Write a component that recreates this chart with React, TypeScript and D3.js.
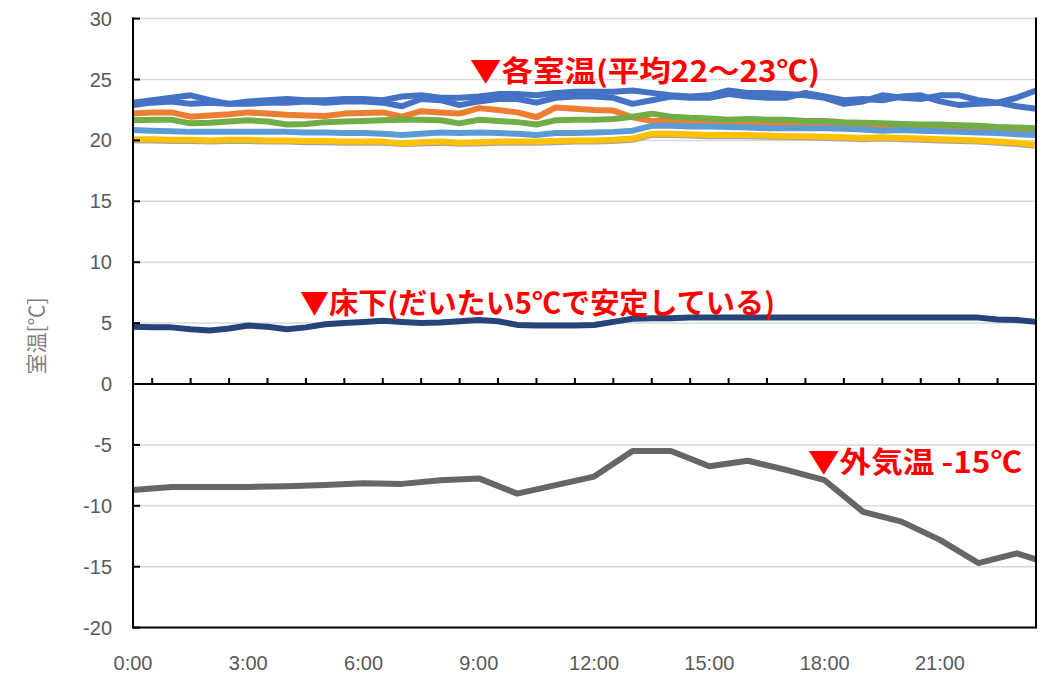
import React from "react";
import * as d3 from "d3";

// half-hourly sample times (hours)
const halfHours = d3.range(0, 24, 0.5);
// hourly times for outside air
const outsideHours = [0, 1, 2, 3, 4, 5, 6, 7, 8, 9, 10, 11, 12, 13, 14, 15, 16, 17, 18, 19, 20, 21, 22, 23, 23.5];

const roomBlueA = [23.1, 23.3, 23.5, 23.7, 23.3, 23.0, 23.2, 23.3, 23.4, 23.3, 23.3, 23.4, 23.4, 23.3, 23.6, 23.7, 23.5, 23.5, 23.6, 23.8, 23.8, 23.7, 23.9, 24.0, 24.0, 24.0, 24.1, 23.9, 23.7, 23.6, 23.7, 24.1, 23.9, 23.9, 23.8, 23.7, 23.5, 23.0, 23.2, 23.7, 23.5, 23.4, 23.7, 23.7, 23.3, 23.1, 23.5, 24.1];
const roomBlueB = [22.9, 23.1, 23.2, 23.0, 23.1, 23.0, 23.0, 23.1, 23.1, 23.2, 23.1, 23.2, 23.2, 23.1, 22.8, 23.4, 23.3, 22.9, 23.2, 23.4, 23.4, 23.1, 23.5, 23.6, 23.6, 23.5, 23.0, 23.3, 23.6, 23.5, 23.5, 23.8, 23.6, 23.5, 23.5, 23.9, 23.6, 23.3, 23.4, 23.3, 23.6, 23.7, 23.2, 22.9, 23.0, 23.1, 22.8, 22.6];
const roomOrange = [22.2, 22.3, 22.3, 21.95, 22.05, 22.15, 22.3, 22.2, 22.1, 22.05, 22.0, 22.2, 22.25, 22.3, 21.95, 22.4, 22.3, 22.2, 22.65, 22.5, 22.3, 21.9, 22.7, 22.6, 22.5, 22.45, 21.9, 21.6, 21.6, 21.5, 21.5, 21.4, 21.4, 21.4, 21.3, 21.3, 21.3, 21.2, 21.2, 21.1, 21.2, 21.1, 21.0, 21.0, 20.9, 20.9, 20.8, 20.8];
const roomGreen = [21.65, 21.7, 21.7, 21.4, 21.45, 21.55, 21.65, 21.55, 21.3, 21.35, 21.5, 21.55, 21.6, 21.65, 21.7, 21.7, 21.65, 21.4, 21.7, 21.6, 21.5, 21.3, 21.65, 21.7, 21.7, 21.75, 21.95, 22.2, 21.95, 21.85, 21.8, 21.7, 21.75, 21.7, 21.7, 21.6, 21.6, 21.5, 21.45, 21.4, 21.35, 21.3, 21.3, 21.25, 21.2, 21.1, 21.05, 21.0];
const roomLightBlue = [20.85, 20.8, 20.75, 20.7, 20.7, 20.7, 20.7, 20.7, 20.7, 20.65, 20.65, 20.6, 20.6, 20.55, 20.45, 20.55, 20.65, 20.6, 20.65, 20.6, 20.55, 20.45, 20.6, 20.6, 20.65, 20.7, 20.8, 21.2, 21.2, 21.15, 21.15, 21.1, 21.05, 21.0, 21.0, 21.0, 21.0, 20.95, 20.9, 20.8, 20.85, 20.8, 20.75, 20.7, 20.65, 20.6, 20.5, 20.45];
const roomYellow = [20.1, 20.1, 20.05, 20.05, 20.0, 20.05, 20.05, 20.0, 20.0, 19.95, 19.95, 19.9, 19.9, 19.9, 19.75, 19.85, 19.9, 19.8, 19.85, 19.9, 19.9, 19.9, 19.95, 20.0, 20.0, 20.05, 20.15, 20.55, 20.55, 20.5, 20.45, 20.45, 20.45, 20.4, 20.35, 20.35, 20.3, 20.25, 20.2, 20.25, 20.2, 20.15, 20.1, 20.05, 20.0, 19.9, 19.8, 19.65];
const roomGray = [20.0, 20.0, 19.95, 19.95, 19.9, 19.95, 19.95, 19.9, 19.9, 19.85, 19.85, 19.8, 19.8, 19.8, 19.7, 19.75, 19.8, 19.72, 19.75, 19.8, 19.8, 19.8, 19.85, 19.9, 19.9, 19.95, 20.05, 20.45, 20.45, 20.4, 20.35, 20.35, 20.35, 20.3, 20.25, 20.25, 20.2, 20.15, 20.1, 20.15, 20.1, 20.05, 20.0, 19.95, 19.9, 19.8, 19.7, 19.55];
const underFloor = [4.7, 4.65, 4.65, 4.5, 4.4, 4.55, 4.8, 4.7, 4.5, 4.65, 4.9, 5.0, 5.1, 5.2, 5.1, 5.0, 5.05, 5.15, 5.25, 5.15, 4.85, 4.8, 4.8, 4.8, 4.85, 5.1, 5.35, 5.4, 5.4, 5.45, 5.45, 5.45, 5.45, 5.45, 5.45, 5.45, 5.45, 5.45, 5.45, 5.45, 5.45, 5.45, 5.45, 5.45, 5.45, 5.3, 5.25, 5.1];
const outsideAir = [-8.7, -8.45, -8.45, -8.45, -8.4, -8.3, -8.15, -8.2, -7.9, -7.75, -9.0, -8.3, -7.6, -5.5, -5.5, -6.75, -6.3, -7.05, -7.9, -10.5, -11.3, -12.8, -14.7, -13.9, -14.4];

const yTicks = [-20, -15, -10, -5, 0, 5, 10, 15, 20, 25, 30];
const xLabelHours = [0, 3, 6, 9, 12, 15, 18, 21];
const xLabels = ["0:00", "3:00", "6:00", "9:00", "12:00", "15:00", "18:00", "21:00"];
const xTickHours = [0.5, 1.5, 2.5, 3.5, 4.5, 5.5, 6.5, 7.5, 8.5, 9.5, 10.5, 11.5, 12.5, 13.5, 14.5, 15.5, 16.5, 17.5, 18.5, 19.5, 20.5, 21.5, 22.5];

const halfHourSeries = [
  { name: "gray", values: roomGray, color: "#A5A5A5" },
  { name: "orange", values: roomOrange, color: "#ED7D31" },
  { name: "yellow", values: roomYellow, color: "#FFC000" },
  { name: "lightblue", values: roomLightBlue, color: "#5B9BD5" },
  { name: "green", values: roomGreen, color: "#70AD47" },
  { name: "blueA", values: roomBlueA, color: "#4472C4" },
  { name: "blueB", values: roomBlueB, color: "#4472C4" },
  { name: "floor", values: underFloor, color: "#264478" },
];

export default function App() {
  const W = 1048, H = 681;
  const x = d3.scaleLinear().domain([0, 23.5]).range([133, 1036]);
  const y = d3.scaleLinear().domain([-20, 30]).range([627.6, 18.6]);
  const line = d3
    .line<[number, number]>()
    .x((d) => x(d[0]))
    .y((d) => y(d[1]));
  const font = "'Liberation Sans', Arial, sans-serif";
  const jp = "'Noto Sans CJK JP', sans-serif";
  const left = 133, right = 1036;

  return (
    <div style={{ position: "fixed", left: 0, top: 0 }}>
      <svg width={W} height={H} viewBox={`0 0 ${W} ${H}`} style={{ display: "block", background: "#fff" }}>
        {/* gridlines */}
        {yTicks
          .filter((v) => v !== 0 && v !== -20)
          .map((v) => (
            <line key={"g" + v} x1={left} x2={right} y1={y(v)} y2={y(v)} stroke="#D9D9D9" strokeWidth={1.5} />
          ))}
        {/* series */}
        {halfHourSeries.map((s) => (
          <path
            key={s.name}
            d={line(halfHours.map((t, i) => [t, s.values[i]] as [number, number])) || ""}
            fill="none"
            stroke={s.color}
            strokeWidth={6}
            strokeLinejoin="round"
          />
        ))}
        <path
          d={line(outsideHours.map((t, i) => [t, outsideAir[i]] as [number, number])) || ""}
          fill="none"
          stroke="#666666"
          strokeWidth={6}
          strokeLinejoin="round"
        />
        {/* frame / axes */}
        <line x1={left} x2={left} y1={y(30) - 1} y2={y(-20) + 1} stroke="#000" strokeWidth={2} />
        <line x1={right} x2={right} y1={y(30) - 1} y2={y(-20) + 1} stroke="#000" strokeWidth={2} />
        <line x1={left} x2={right} y1={y(-20)} y2={y(-20)} stroke="#000" strokeWidth={2} />
        <line x1={left} x2={right} y1={y(0)} y2={y(0)} stroke="#000" strokeWidth={2} />
        {yTicks.map((v) => (
          <line key={"t" + v} x1={left} x2={left + 7} y1={y(v)} y2={y(v)} stroke="#000" strokeWidth={2} />
        ))}
        {xTickHours.map((h) => (
          <line key={"xt" + h} x1={x(h)} x2={x(h)} y1={y(0)} y2={y(0) - 6} stroke="#000" strokeWidth={2} />
        ))}
        {/* y labels */}
        {yTicks.map((v) => (
          <text key={"yl" + v} x={112} y={y(v)} dy="0.35em" textAnchor="end" fontFamily={font} fontSize={20} fill="#595959">
            {v}
          </text>
        ))}
        {/* x labels */}
        {xLabelHours.map((h, i) => (
          <text key={"xl" + h} x={x(h)} y={670} textAnchor="middle" fontFamily={font} fontSize={20} fill="#595959">
            {xLabels[i]}
          </text>
        ))}
        {/* y title */}
        <text
          transform="translate(44,336) rotate(-90)"
          textAnchor="middle"
          fontFamily={jp}
          fontSize={21}
          fill="#7F7F7F"
        >
          室温[℃]
        </text>
        {/* annotations */}
        <text x={470} y={82} fontFamily={jp} fontWeight="bold" fontSize={29} fill="#FF0000" textLength={350} lengthAdjust="spacingAndGlyphs">
          ▼各室温(平均22～23℃)
        </text>
        <text x={300} y={314} fontFamily={jp} fontWeight="bold" fontSize={29} fill="#FF0000" textLength={475} lengthAdjust="spacingAndGlyphs">
          ▼床下(だいたい5℃で安定している)
        </text>
        <text x={808} y={473} fontFamily={jp} fontWeight="bold" fontSize={29} fill="#FF0000" textLength={214} lengthAdjust="spacingAndGlyphs">
          ▼外気温 -15℃
        </text>
      </svg>
    </div>
  );
}
